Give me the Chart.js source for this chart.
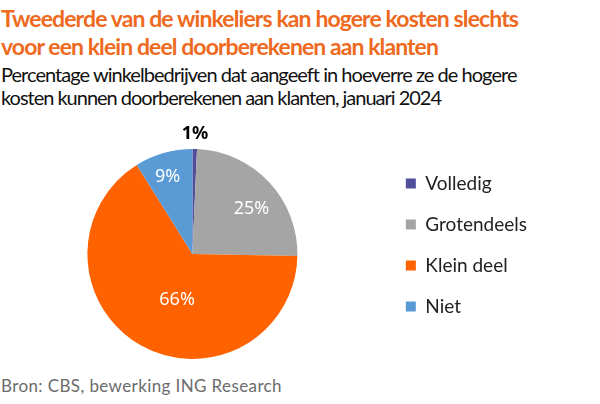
<!DOCTYPE html>
<html>
<head>
<meta charset="utf-8">
<script src="https://cdn.jsdelivr.net/npm/chart.js@4"></script>
<style>
  body { margin: 0; width: 600px; height: 404px; background: #fff; position: relative; overflow: hidden; font-family: Lato, sans-serif; }
  .line { position: absolute; left: 1px; white-space: nowrap; }
  .title { color: #ee6a1f; font-weight: bold; font-size: 23px; line-height: 28px; }
  .sub { color: #111; font-size: 20px; line-height: 23px; }
  .src { color: #6b6b6b; font-size: 17px; line-height: 22px; }
  #wrap { position: absolute; left: 0; top: 120px; width: 600px; height: 250px; }
</style>
</head>
<body>
<div class="line title" style="top:4px" data-w="517">Tweederde van de winkeliers kan hogere kosten slechts</div>
<div class="line title" style="top:32px" data-w="437">voor een klein deel doorberekenen aan klanten</div>
<div class="line sub" style="top:63px" data-w="515">Percentage winkelbedrijven dat aangeeft in hoeverre ze de hogere</div>
<div class="line sub" style="top:86px" data-w="440">kosten kunnen doorberekenen aan klanten, januari 2024</div>
<div id="wrap"><canvas id="pieChart"></canvas></div>
<div class="line src" style="top:375px" data-w="281">Bron: CBS, bewerking ING Research</div>
<script>
// data
const categories = ['Volledig', 'Grotendeels', 'Klein deel', 'Niet'];
const shares = [0.7, 24.6, 65.8, 8.9];
const labels = ['1%', '25%', '66%', '9%'];
const colours = ['#514f9c', '#a5a5a5', '#ff6200', '#5b9bd5'];

// stretch the text lines a little so they take the same width as in the picture
document.querySelectorAll('.line').forEach(el => {
    const n = el.textContent.length;
    const diff = Number(el.dataset.w) - el.getBoundingClientRect().width;
    el.style.letterSpacing = (diff / n) + 'px';
});

// draws the percentage labels on top of the slices
const sliceLabels = {
    id: 'sliceLabels',
    afterDatasetsDraw(chart, args, opts) {
        const ctx = chart.ctx;
        const meta = chart.getDatasetMeta(0);
        meta.data.forEach((arc, i) => {
            const mid = (arc.startAngle + arc.endAngle) / 2;
            const r = arc.outerRadius * opts.dist[i];
            const x = arc.x + Math.cos(mid) * r + opts.shift[i][0];
            const y = arc.y + Math.sin(mid) * r + opts.shift[i][1];
            ctx.save();
            ctx.font = (opts.bold[i] ? 'bold ' : '') + '18px "Noto Sans", sans-serif';
            ctx.fillStyle = opts.colour[i];
            ctx.textAlign = 'center';
            ctx.textBaseline = 'middle';
            ctx.fillText(labels[i], x, y);
            ctx.restore();
        });
    }
};

const ctx = document.getElementById('pieChart').getContext('2d');
new Chart(ctx, {
    type: 'pie',
    data: {
        labels: categories,
        datasets: [{
            data: shares,
            backgroundColor: colours,
            borderWidth: 0
        }]
    },
    options: {
        responsive: true,
        maintainAspectRatio: false,
        animation: false,
        layout: { padding: { top: 29, bottom: 11, left: 1, right: 63 } },
        plugins: {
            tooltip: { enabled: false },
            legend: {
                position: 'right',
                align: 'start',
                title: { display: true, text: '', font: { size: 1, lineHeight: 1 }, padding: { top: 2, bottom: 0 } },
                labels: {
                    boxWidth: 10,
                    boxHeight: 10,
                    padding: 22,
                    color: '#222',
                    font: { family: 'Lato, sans-serif', size: 19 }
                }
            },
            sliceLabels: {
                dist: [1.15, 0.72, 0.47, 0.79],
                shift: [[0, 1], [4, 7], [9, 3], [-2, 3]],
                bold: [true, false, false, false],
                colour: ['#000', '#fff', '#fff', '#fff']
            }
        }
    },
    plugins: [sliceLabels]
});
</script>
</body>
</html>
